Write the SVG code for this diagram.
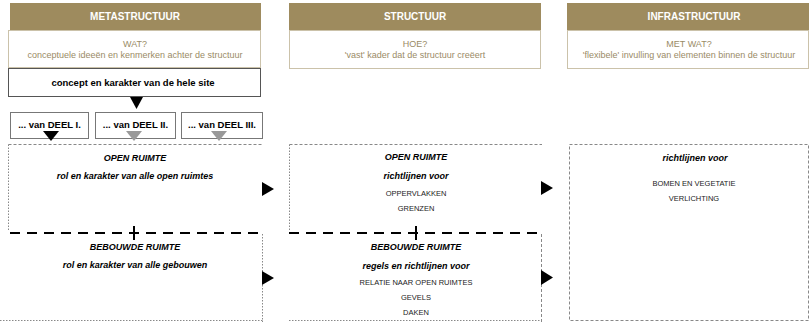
<svg xmlns="http://www.w3.org/2000/svg" width="809" height="322" viewBox="0 0 809 322">
<style>
text{font-family:"Liberation Sans",Arial,sans-serif;text-anchor:middle}
.hd{fill:#9e8b5e}
.hdt{fill:#fff;font-weight:bold;font-size:10px}
.q{fill:#fff;stroke:#cbc2aa;stroke-width:1}
.qt{fill:#9a8b66;font-size:9px}
.b{font-weight:bold;font-size:9.5px;fill:#000}
.bi{font-weight:bold;font-style:italic;font-size:9px;fill:#000}
.s{font-size:7.5px;fill:#222}
.box{fill:#fff;stroke:#777;stroke-width:1}
.dash{fill:none;stroke:#888;stroke-width:1;stroke-dasharray:3 2}
.dot{fill:none;stroke:#888;stroke-width:1;stroke-dasharray:1.5 1.5}
.thick{fill:none;stroke:#000;stroke-width:2;stroke-dasharray:10 7}
</style>
<rect width="809" height="322" fill="#fff"/>
<g id="metastructuur">
<rect class="hd" x="10" y="3" width="251" height="27"/>
<text class="hdt" x="135" y="19.5">METASTRUCTUUR</text>
<rect class="q" x="8.5" y="30.5" width="252" height="37"/>
<text class="qt" x="135" y="47">WAT?</text>
<text class="qt" x="135" y="58">conceptuele ideeën en kenmerken achter de structuur</text>
</g>
<g id="concept">
<rect x="8.5" y="68.5" width="252" height="28" fill="#fff" stroke="#555"/>
<text class="b" x="133" y="86">concept en karakter van de hele site</text>
</g>
<g id="deel1">
<rect class="box" x="10.5" y="112.5" width="78" height="26"/>
<text class="b" x="49.5" y="128">... van DEEL I.</text>
</g>
<g id="deel2">
<rect class="box" x="95.5" y="112.5" width="80" height="26"/>
<text class="b" x="135.5" y="128">... van DEEL II.</text>
</g>
<g id="deel3">
<rect class="box" x="181.5" y="112.5" width="81" height="26"/>
<text class="b" x="222" y="128">... van DEEL III.</text>
</g>
<g id="meta-open">
<path class="dash" d="M8.5 144.5H262.5"/>
<path class="dot" d="M8.5 144.5V230"/>
<text class="bi" x="135" y="161">OPEN RUIMTE</text>
<text class="bi" x="135" y="179">rol en karakter van alle open ruimtes</text>
</g>
<g id="meta-bebouwd">
<path class="dot" d="M262.5 234V322M0 320.5H262.5"/>
<text class="bi" x="135" y="250">BEBOUWDE RUIMTE</text>
<text class="bi" x="135" y="268">rol en karakter van alle gebouwen</text>
</g>
<g id="structuur">
<rect class="hd" x="289" y="3" width="252" height="27"/>
<text class="hdt" x="415" y="19.5">STRUCTUUR</text>
<rect class="q" x="289.5" y="30.5" width="251" height="38"/>
<text class="qt" x="415" y="47">HOE?</text>
<text class="qt" x="415" y="58">'vast' kader dat de structuur creëert</text>
</g>
<g id="struct-open">
<path class="dash" d="M289.5 144.5H542"/>
<path class="dot" d="M289.5 144.5V230"/>
<text class="bi" x="416" y="160">OPEN RUIMTE</text>
<text class="bi" x="416" y="179">richtlijnen voor</text>
<text class="s" x="416" y="195.6">OPPERVLAKKEN</text>
<text class="s" x="416" y="210.6">GRENZEN</text>
</g>
<g id="struct-bebouwd">
<path class="dash" d="M541.5 234V322"/>
<path class="dot" d="M289 320.5H541.5"/>
<text class="bi" x="416" y="250">BEBOUWDE RUIMTE</text>
<text class="bi" x="416" y="269">regels en richtlijnen voor</text>
<text class="s" x="416" y="284.6">RELATIE NAAR OPEN RUIMTES</text>
<text class="s" x="416" y="299.6">GEVELS</text>
<text class="s" x="416" y="314.6">DAKEN</text>
</g>
<g id="infrastructuur">
<rect class="hd" x="567" y="3" width="242" height="27"/>
<text class="hdt" x="694" y="19.5">INFRASTRUCTUUR</text>
<rect class="q" x="567.5" y="30.5" width="241" height="38"/>
<text class="qt" x="689" y="47">MET WAT?</text>
<text class="qt" x="689" y="58">'flexibele' invulling van elementen binnen de structuur</text>
</g>
<g id="infra-box">
<rect class="dash" x="569.5" y="144.5" width="239" height="176"/>
<text class="bi" x="695" y="161">richtlijnen voor</text>
<text class="s" x="694" y="185.6">BOMEN EN VEGETATIE</text>
<text class="s" x="694" y="200.6">VERLICHTING</text>
</g>
<g id="connectors">
<path class="thick" d="M10 233H262"/>
<path d="M134 226V240" stroke="#000" stroke-width="2"/>
<path class="thick" d="M289 233H542"/>
<path d="M416 226V240" stroke="#000" stroke-width="2"/>
<polygon points="130,97 143,97 136.5,109" fill="#000"/>
<polygon points="43,131 59,131 51,141" fill="#000"/>
<polygon points="126,131 142,131 134,141" fill="#999"/>
<polygon points="211,131 227,131 219,141" fill="#999"/>
<polygon points="262,182 274,189 262,196" fill="#000"/>
<polygon points="262,271 274,278 262,285" fill="#000"/>
<polygon points="541,181 553,188 541,195" fill="#000"/>
<polygon points="541,270 553,277.5 541,285" fill="#000"/>
</g>
</svg>
